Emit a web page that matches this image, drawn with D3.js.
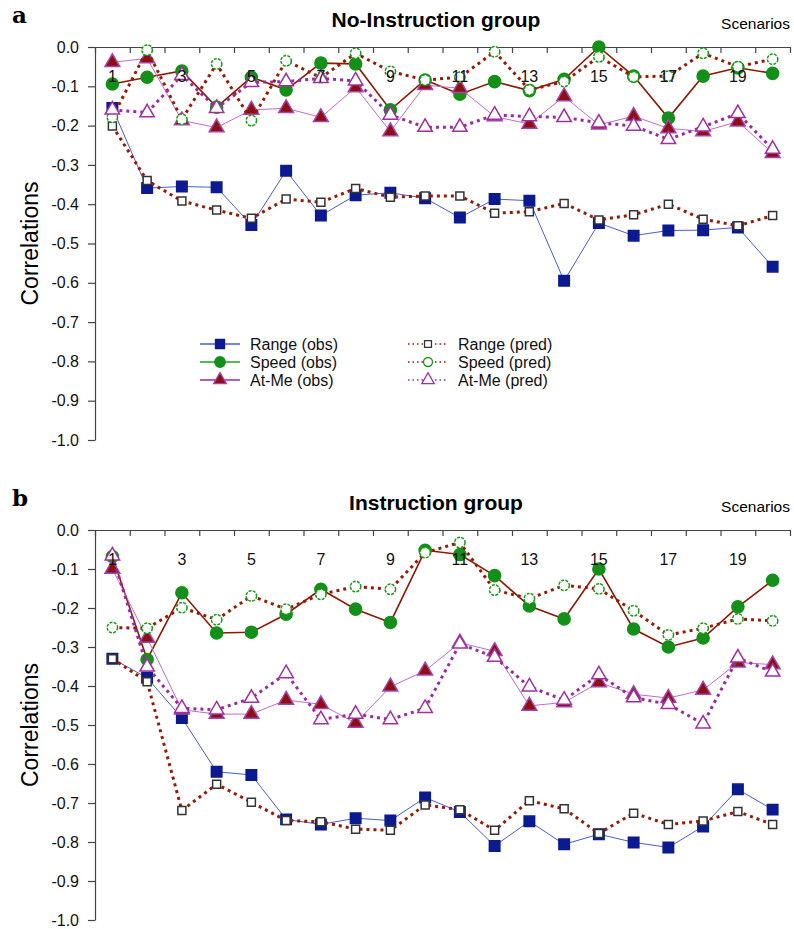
<!DOCTYPE html>
<html>
<head>
<meta charset="utf-8">
<script src="https://cdn.jsdelivr.net/npm/d3@7"></script>
<style>
  body { margin: 0; background: #fff; }
  text { font-family: "Liberation Sans", Arial, Helvetica, sans-serif; }
</style>
</head>
<body>
<script>
// scenarios and tick labels
var scenarios = [1, 2, 3, 4, 5, 6, 7, 8, 9, 10, 11, 12, 13, 14, 15, 16, 17, 18, 19, 20];
var scenarioLabels = [1, 3, 5, 7, 9, 11, 13, 15, 17, 19];
var yTicks = [0, -0.1, -0.2, -0.3, -0.4, -0.5, -0.6, -0.7, -0.8, -0.9, -1.0];

// a: No-Instruction group
var rangeObsA = [-0.155, -0.359, -0.355, -0.357, -0.453, -0.315, -0.429, -0.377, -0.371, -0.385,
                 -0.434, -0.387, -0.391, -0.595, -0.448, -0.48, -0.467, -0.466, -0.459, -0.559];
var speedObsA = [-0.094, -0.077, -0.061, -0.153, -0.077, -0.109, -0.041, -0.043, -0.16, -0.084,
                 -0.12, -0.088, -0.111, -0.082, 0.0, -0.074, -0.181, -0.074, -0.053, -0.067];
var atMeObsA = [-0.039, -0.029, -0.187, -0.205, -0.16, -0.156, -0.179, -0.103, -0.215, -0.097,
                -0.105, -0.177, -0.196, -0.126, -0.198, -0.176, -0.207, -0.215, -0.19, -0.27];
var rangePredA = [-0.201, -0.34, -0.392, -0.415, -0.436, -0.387, -0.395, -0.36, -0.382, -0.379,
                  -0.379, -0.423, -0.419, -0.398, -0.44, -0.427, -0.4, -0.438, -0.455, -0.429];
var speedPredA = [-0.179, -0.008, -0.184, -0.043, -0.187, -0.035, -0.078, -0.016, -0.062, -0.084,
                  -0.077, -0.012, -0.109, -0.088, -0.025, -0.076, -0.074, -0.016, -0.05, -0.031];
var atMePredA = [-0.16, -0.167, -0.072, -0.156, -0.09, -0.088, -0.08, -0.086, -0.173, -0.204,
                 -0.204, -0.173, -0.177, -0.179, -0.193, -0.201, -0.235, -0.203, -0.169, -0.26];

// b: Instruction group
var rangeObsB = [-0.33, -0.379, -0.482, -0.62, -0.628, -0.742, -0.755, -0.739, -0.745, -0.686,
                 -0.723, -0.81, -0.747, -0.806, -0.78, -0.801, -0.814, -0.76, -0.665, -0.717];
var speedObsB = [-0.068, -0.332, -0.161, -0.264, -0.262, -0.216, -0.152, -0.203, -0.237, -0.052,
                 -0.063, -0.117, -0.195, -0.228, -0.1, -0.254, -0.3, -0.277, -0.197, -0.129];
var atMeObsB = [-0.1, -0.277, -0.461, -0.472, -0.472, -0.436, -0.447, -0.495, -0.402, -0.361,
                -0.289, -0.311, -0.451, -0.442, -0.391, -0.421, -0.431, -0.41, -0.34, -0.345];
var rangePredB = [-0.33, -0.389, -0.719, -0.652, -0.698, -0.745, -0.748, -0.767, -0.77, -0.705,
                  -0.717, -0.77, -0.694, -0.715, -0.778, -0.726, -0.755, -0.746, -0.722, -0.755];
var speedPredB = [-0.25, -0.252, -0.199, -0.23, -0.169, -0.203, -0.165, -0.145, -0.152, -0.058,
                  -0.032, -0.154, -0.176, -0.142, -0.151, -0.207, -0.269, -0.252, -0.228, -0.233];
var atMePredB = [-0.066, -0.351, -0.457, -0.461, -0.431, -0.368, -0.486, -0.472, -0.486, -0.457,
                 -0.292, -0.326, -0.402, -0.436, -0.371, -0.43, -0.447, -0.497, -0.328, -0.364];

var width = 794, height = 929;
var left = 95, right = 790;

var svg = d3.select("body").append("svg")
    .attr("width", width)
    .attr("height", height);

// series styles (order = drawing order)
var styles = [
    {name: "Range (obs)", key: "rangeObs", line: "#4a5ccc", lw: 1, dash: null,
     shape: d3.symbolSquare, size: 110, fill: "#0b1a8f", stroke: "#0b1a8f", legendLine: "#4a5ccc"},
    {name: "Speed (obs)", key: "speedObs", line: "#8b1a05", lw: 1.6, dash: null,
     shape: d3.symbolCircle, size: 115, fill: "#14901a", stroke: "#14901a", legendLine: "#22a022"},
    {name: "At-Me (obs)", key: "atMeObs", line: "#bf6cc8", lw: 1, dash: null,
     shape: d3.symbolTriangle, size: 95, fill: "#8e0f12", stroke: "#a444ac", legendLine: "#9a2a9a"},
    {name: "Range (pred)", key: "rangePred", line: "#951a08", lw: 3, dash: "3,4",
     shape: d3.symbolSquare, size: 64, fill: "#fff", stroke: "#333", legendLine: "#951a08"},
    {name: "Speed (pred)", key: "speedPred", line: "#951a08", lw: 3, dash: "3,4",
     shape: d3.symbolCircle, size: 85, fill: "#fff", stroke: "#1a9a1a", legendLine: "#951a08"},
    {name: "At-Me (pred)", key: "atMePred", line: "#9c2a9c", lw: 3, dash: "3,4",
     shape: d3.symbolTriangle, size: 90, fill: "#fff", stroke: "#a030a0", legendLine: "#9c2a9c"}
];

var panels = [
    {letter: "a", title: "No-Instruction group", top: 47, bottom: 440,
     data: {rangeObs: rangeObsA, speedObs: speedObsA, atMeObs: atMeObsA,
            rangePred: rangePredA, speedPred: speedPredA, atMePred: atMePredA},
     legend: true},
    {letter: "b", title: "Instruction group", top: 530, bottom: 920,
     data: {rangeObs: rangeObsB, speedObs: speedObsB, atMeObs: atMeObsB,
            rangePred: rangePredB, speedPred: speedPredB, atMePred: atMePredB},
     legend: false}
];

var x = d3.scaleBand()
    .domain(scenarios)
    .range([left, right])
    .padding(0);

function cx(d) { return x(d) + x.bandwidth() / 2; }

panels.forEach(function(p) {
    var g = svg.append("g");

    var y = d3.scaleLinear()
        .domain([0, -1])
        .range([p.top, p.bottom]);

    // panel letter, title, axis label
    g.append("text")
        .attr("x", 12).attr("y", p.top - 24)
        .style("font-family", "'DejaVu Serif', 'Liberation Serif', serif")
        .style("font-weight", "bold")
        .style("font-size", "23px")
        .text(p.letter);

    g.append("text")
        .attr("x", 436).attr("y", p.top - 20)
        .attr("text-anchor", "middle")
        .style("font-weight", "bold")
        .style("font-size", "21px")
        .text(p.title);

    g.append("text")
        .attr("x", right).attr("y", p.top - 18)
        .attr("text-anchor", "end")
        .style("font-size", "15.5px")
        .text("Scenarios");

    g.append("text")
        .attr("transform", "translate(38," + ((p.top + p.bottom) / 2) + ") rotate(-90)")
        .attr("text-anchor", "middle")
        .style("font-size", "23px")
        .text("Correlations");

    // y axis
    var yAxis = g.append("g")
        .attr("transform", "translate(" + left + ",0)")
        .call(d3.axisLeft(y)
            .tickValues(yTicks)
            .tickSize(7)
            .tickSizeOuter(0)
            .tickPadding(9)
            .tickFormat(function(d) { return d.toFixed(1); }));
    yAxis.selectAll("text")
        .style("font-size", "16px")
        .style("font-family", "'Liberation Sans', Arial, sans-serif")
        .attr("fill", "#111");
    yAxis.selectAll("path, line").attr("stroke", "#444").attr("stroke-width", 1.2);

    // x axis along the top, ticks at scenario boundaries pointing down
    var xb = d3.scaleLinear().domain([0, 20]).range([left, right]);
    var xAxis = g.append("g")
        .attr("transform", "translate(0," + p.top + ")")
        .call(d3.axisBottom(xb)
            .tickValues(d3.range(0, 21))
            .tickSize(6)
            .tickSizeOuter(0)
            .tickFormat(""));
    xAxis.selectAll("path, line").attr("stroke", "#444").attr("stroke-width", 1.2);

    // series
    styles.forEach(function(s) {
        var vals = p.data[s.key];
        var pts = scenarios.map(function(d, i) { return [cx(d), y(vals[i])]; });

        g.append("path")
            .datum(pts)
            .attr("fill", "none")
            .attr("stroke", s.line)
            .attr("stroke-width", s.lw)
            .attr("stroke-dasharray", s.dash)
            .attr("d", d3.line());

        g.selectAll(null)
            .data(pts)
            .enter().append("path")
            .attr("transform", function(d) { return "translate(" + d[0] + "," + d[1] + ")"; })
            .attr("d", d3.symbol().type(s.shape).size(s.size))
            .attr("fill", s.fill)
            .attr("stroke", s.stroke)
            .attr("stroke-width", 1.5)
            .attr("stroke-dasharray", s.key === "speedPred" ? "3,1.2" : null);
    });

    // scenario numbers inside the plot
    g.selectAll(null)
        .data(scenarioLabels)
        .enter().append("text")
        .attr("x", cx)
        .attr("y", p.top + 35)
        .attr("text-anchor", "middle")
        .style("font-size", "16px")
        .attr("fill", "#111")
        .text(function(d) { return d; });

    // legend
    if (p.legend) {
        var cols = [200, 408];
        styles.forEach(function(s, i) {
            var lx = cols[Math.floor(i / 3)];
            var ly = 344 + (i % 3) * 18;
            var lg = g.append("g").attr("transform", "translate(" + lx + "," + ly + ")");
            lg.append("line")
                .attr("x1", 0).attr("x2", 40)
                .attr("stroke", s.legendLine)
                .attr("stroke-width", 1.3)
                .attr("stroke-dasharray", s.dash ? "1.5,3" : null);
            lg.append("path")
                .attr("transform", "translate(20,0)")
                .attr("d", d3.symbol().type(s.shape).size(s.size * 0.75))
                .attr("fill", s.fill)
                .attr("stroke", s.stroke)
                .attr("stroke-width", 1.3);
            lg.append("text")
                .attr("x", 50).attr("y", 5.5)
                .style("font-size", "16px")
                .attr("fill", "#111")
                .text(s.name);
        });
    }
});
</script>
</body>
</html>
